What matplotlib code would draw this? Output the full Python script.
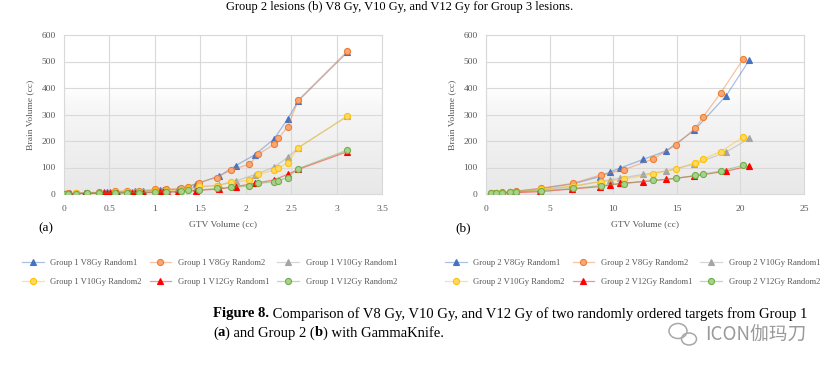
import numpy as np
import matplotlib.pyplot as plt
from matplotlib.colors import LinearSegmentedColormap, to_rgba
from matplotlib.patches import Ellipse

plt.rcParams['font.family'] = ['Liberation Serif', 'DejaVu Serif']

# Group 1 (cumulative GTV volume, cc)
g1_x_r1 = [0.02, 0.07, 0.14, 0.23, 0.40, 0.44, 0.47, 0.51, 0.58, 0.72, 0.75, 0.78, 0.82, 0.87,
           1.06, 1.09, 1.11, 1.13, 1.25, 1.45, 1.71, 1.89, 2.10, 2.31, 2.46, 2.58, 3.12]
g1_v8_r1 = [1, 2, 3, 4, 6, 6, 7, 7, 8, 9, 9, 10, 10, 11, 15, 16, 16, 17, 17, 38, 68, 107, 148, 207, 282, 352, 535]
g1_v10_r1 = [0.5, 1, 2, 3, 4, 4, 5, 5, 5, 6, 6, 6, 7, 7, 9, 10, 10, 10, 11, 24, 34, 49, 73, 101, 138, 175, 294]
g1_v12_r1 = [0.3, 0.6, 1, 2, 3, 3, 3, 3, 4, 4, 4, 5, 5, 5, 6, 6, 7, 7, 8, 13, 19, 28, 40, 53, 74, 93, 160]

g1_x_r2 = [0.01, 0.04, 0.13, 0.25, 0.38, 0.56, 0.69, 0.83, 1.00, 1.12, 1.29, 1.37, 1.49, 1.68, 1.84,
           2.04, 2.14, 2.31, 2.36, 2.46, 2.58, 3.12]
g1_v8_r2 = [1, 2, 3, 5, 6, 10, 12, 12, 18, 18, 21, 28, 43, 62, 91, 112, 150, 187, 210, 253, 355, 540]
g1_v10_r2 = [0.5, 1, 2, 3, 4, 7, 9, 9, 13, 13, 15, 20, 30, 31, 44, 52, 74, 90, 97, 118, 175, 294]
g1_v12_r2 = [0.3, 0.6, 1, 2, 3, 4, 5, 5, 8, 8, 10, 14, 15, 21, 25, 30, 40, 46, 50, 62, 96, 166]

# Group 2
g2_x_r1 = [0.34, 0.73, 1.26, 1.86, 2.36, 4.27, 6.80, 9.00, 9.71, 10.55, 12.38, 14.14, 16.39, 18.87, 20.71]
g2_v8_r1 = [3, 5, 6, 8, 10, 20, 38, 66, 82, 98, 131, 162, 241, 370, 506]
g2_v10_r1 = [2, 4, 5, 6, 8, 15, 28, 48, 53, 60, 74, 87, 113, 158, 210]
g2_v12_r1 = [1, 2, 3, 4, 5, 9, 19, 28, 34, 40, 47, 55, 68, 86, 106]

g2_x_r2 = [0.36, 0.75, 1.28, 1.88, 2.38, 4.30, 6.83, 9.03, 10.81, 13.12, 14.97, 16.44, 17.04, 18.46, 20.24]
g2_v8_r2 = [3, 5, 6, 8, 11, 22, 40, 72, 91, 132, 186, 248, 289, 382, 511]
g2_v10_r2 = [2, 4, 5, 7, 9, 17, 31, 46, 56, 76, 94, 118, 132, 160, 216]
g2_v12_r2 = [2, 3, 4, 6, 8, 12, 21, 32, 39, 51, 59, 70, 75, 87, 108]

series_names = ['V8Gy Random1', 'V8Gy Random2', 'V10Gy Random1', 'V10Gy Random2', 'V12Gy Random1', 'V12Gy Random2']

# line colour, marker, marker face, marker edge
styles = [
    ('#4472C4', '^', '#4472C4', '#4472C4'),
    ('#ED7D31', 'o', '#F8A877', '#ED7D31'),
    ('#A5A5A5', '^', '#A5A5A5', '#A5A5A5'),
    ('#FFC000', 'o', '#FFD966', '#FFC000'),
    ('#FF0000', '^', '#FF0000', '#FF0000'),
    ('#70AD47', 'o', '#A9D18E', '#70AD47'),
]

bg_cmap = LinearSegmentedColormap.from_list('bg', [(0, '#e8e8e8'), (0.5, '#f5f5f5'), (0.68, '#ffffff'), (1, '#ffffff')])


def draw_panel(ax, group, xr1, xr2, series, xmax, xstep):
    grad = np.linspace(0, 1, 256).reshape(-1, 1)
    ax.imshow(grad, extent=[0, 1, 0, 1], transform=ax.transAxes, aspect='auto',
              cmap=bg_cmap, origin='lower', zorder=0)
    handles = []
    for i, (ys, st) in enumerate(zip(series, styles)):
        xs = xr1 if i % 2 == 0 else xr2
        lc, mk, fc, ec = st
        h, = ax.plot(xs, ys, color=to_rgba(lc, 0.45), lw=0.9, marker=mk,
                     ms=4.6 if mk == '^' else 4.4, mfc=fc, mec=ec, mew=0.8, zorder=3,
                     label='Group %d %s' % (group, series_names[i]))
        handles.append(h)
    ax.set_xlim(0, xmax)
    ax.set_ylim(0, 600)
    ax.set_xticks(np.arange(0, xmax + 0.001, xstep))
    ax.set_yticks(np.arange(0, 601, 100))
    ax.xaxis.set_major_formatter(plt.FuncFormatter(lambda v, p: ('%g' % v)))
    ax.grid(True, color='#d9d9d9', lw=0.8, zorder=1)
    ax.set_axisbelow(True)
    for s in ax.spines.values():
        s.set_color('#d9d9d9')
        s.set_linewidth(0.8)
    ax.tick_params(length=0, labelsize=6.8, colors='#595959')
    ax.tick_params(axis='x', pad=8)
    ax.tick_params(axis='y', pad=6)
    ax.set_xlabel('GTV Volume (cc)', fontsize=6.8, color='#595959', labelpad=5)
    ax.set_ylabel('Brain Volume (cc)', fontsize=6.8, color='#595959', labelpad=5)
    return handles


fig = plt.figure(figsize=(8.34, 3.71), dpi=100)
W, H = 834.0, 371.0

ax1 = fig.add_axes([64 / W, 1 - 194 / H, 318 / W, 159 / H])
ax2 = fig.add_axes([486 / W, 1 - 194 / H, 318 / W, 159 / H])

h1 = draw_panel(ax1, 1, g1_x_r1, g1_x_r2, [g1_v8_r1, g1_v8_r2, g1_v10_r1, g1_v10_r2, g1_v12_r1, g1_v12_r2], 3.5, 0.5)
h2 = draw_panel(ax2, 2, g2_x_r1, g2_x_r2, [g2_v8_r1, g2_v8_r2, g2_v10_r1, g2_v10_r2, g2_v12_r1, g2_v12_r2], 25, 5)

fig.text(38 / W, 1 - 228 / H, '(a)', fontsize=9.5, va='center', ha='left')
fig.text(455 / W, 1 - 228 / H, '(b)', fontsize=9.5, va='center', ha='left')

# legend filled row by row (matplotlib fills columns first)
order = [0, 3, 1, 4, 2, 5]
for hs, x0 in ((h1, 22), (h2, 445)):
    hh = [hs[k] for k in order]
    leg = fig.legend(hh, [h.get_label() for h in hh], loc='upper left', bbox_to_anchor=(x0 / W, 1 - 259 / H),
                     ncol=3, frameon=False, fontsize=6.2, handlelength=2.5, handletextpad=0.8,
                     columnspacing=0.9, labelspacing=1.25, borderpad=0, borderaxespad=0)
    for t in leg.get_texts():
        t.set_color('#595959')

# previous caption line, cut by the top edge of the crop
fig.text(400 / W, 1 - 1 / H, 'Group 2 lesions (b) V8 Gy, V10 Gy, and V12 Gy for Group 3 lesions.',
         fontsize=9, ha='center', va='top')

renderer = fig.canvas.get_renderer()


def write_runs(x, y, runs):
    for txt, bold in runs:
        t = fig.text(x / W, 1 - y / H, txt, fontsize=10.5, va='center', ha='left',
                     fontweight='bold' if bold else 'normal')
        x += t.get_window_extent(renderer).width


write_runs(213, 314, [('Figure 8.', True),
                      (' Comparison of V8 Gy, V10 Gy, and V12 Gy of two randomly ordered targets from Group 1', False)])
write_runs(213, 333, [('(', False), ('a', True), (') and Group 2 (', False), ('b', True),
                      (') with GammaKnife.', False)])

# watermark: chat-bubble icon and account name
fig.text(705 / W, 1 - 335 / H, 'ICON伽玛刀', fontsize=13.5, color='#9a9a9a', va='center', ha='left',
         family=['Noto Sans CJK SC', 'DejaVu Sans'])
for cx, cy, w, h in ((678, 331, 18, 15), (689, 339, 15, 12)):
    fig.patches.append(Ellipse((cx / W, 1 - cy / H), w / W, h / H, transform=fig.transFigure,
                               fill=False, ec='#a8a8a8', lw=1.1))

fig.savefig('out.png', dpi=100)
